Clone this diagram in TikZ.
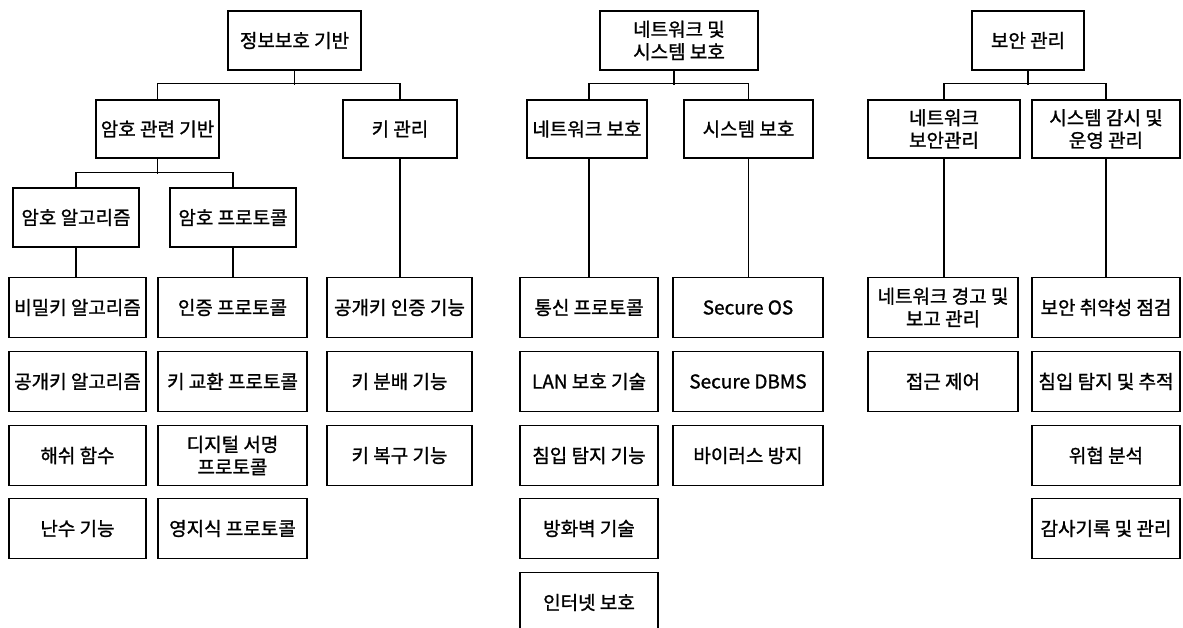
\documentclass[tikz,border=0pt]{standalone}
\usepackage{fontspec}
\setmainfont{Noto Sans CJK KR}[FakeBold=1.2]
\begin{document}
\begin{tikzpicture}[x=1pt,y=-1pt,
  box/.style={draw, line width=1.3pt, inner sep=0pt, align=center,
    font=\fontsize{19}{22.5}\selectfont},
  link/.style={line width=1.3pt}]
\clip (0,0) rectangle (1183,628);
\fill[white] (0,0) rectangle (1183,628);
% ---------- column 1 ----------
\node[box, minimum width=133, minimum height=59] (r1) at (294.5,40.5) {정보보호 기반};
\node[box, minimum width=123, minimum height=58] (a1) at (157.5,129) {암호 관련 기반};
\node[box, minimum width=114, minimum height=58] (k1) at (400,129) {키 관리};
\node[box, minimum width=126, minimum height=59] (b1) at (76,217.5) {암호 알고리즘};
\node[box, minimum width=126, minimum height=59] (b2) at (233,217.5) {암호 프로토콜};
\node[box, minimum width=137, minimum height=60] (l11) at (77.5,307.5) {비밀키 알고리즘};
\node[box, minimum width=137, minimum height=60] (l12) at (77.5,381.5) {공개키 알고리즘};
\node[box, minimum width=137, minimum height=60] (l13) at (77.5,455.5) {해쉬 함수};
\node[box, minimum width=137, minimum height=60] (l14) at (77.5,528.5) {난수 기능};
\node[box, minimum width=149, minimum height=60] (l21) at (232.5,307.5) {인증 프로토콜};
\node[box, minimum width=149, minimum height=60] (l22) at (232.5,381.5) {키 교환 프로토콜};
\node[box, minimum width=149, minimum height=60] (l23) at (232.5,455.5) {디지털 서명\\프로토콜};
\node[box, minimum width=149, minimum height=60] (l24) at (232.5,528.5) {영지식 프로토콜};
\node[box, minimum width=145, minimum height=60] (l31) at (399.5,307.5) {공개키 인증 기능};
\node[box, minimum width=145, minimum height=60] (l32) at (399.5,381.5) {키 분배 기능};
\node[box, minimum width=145, minimum height=60] (l33) at (399.5,455.5) {키 복구 기능};
\draw[link] (r1.south) -- ++(0,14);
\draw[link] (a1.north) -- ++(0,-16) -| (k1.north);
\draw[link] (a1.south) -- ++(0,15);
\draw[link] (b1.north) -- ++(0,-15) -| (b2.north);
\draw[link] (b1.south) -- (b1.south |- l11.north);
\draw[link] (b2.south) -- (b2.south |- l21.north);
\draw[link] (k1.south) -- (k1.south |- l31.north);
% ---------- column 2 ----------
\node[box, minimum width=158, minimum height=59] (r2) at (679,40.5) {네트워크 및\\시스템 보호};
\node[box, minimum width=120, minimum height=58] (n1) at (587,129) {네트워크 보호};
\node[box, minimum width=129, minimum height=58] (s1) at (748.5,129) {시스템 보호};
\node[box, minimum width=138, minimum height=60] (m11) at (589,307.5) {통신 프로토콜};
\node[box, minimum width=138, minimum height=60] (m12) at (589,381.5) {LAN 보호 기술};
\node[box, minimum width=138, minimum height=60] (m13) at (589,455.5) {침입 탐지 기능};
\node[box, minimum width=138, minimum height=60] (m14) at (589,528.5) {방화벽 기술};
\node[box, minimum width=138, minimum height=60] (m15) at (589,602.5) {인터넷 보호};
\node[box, minimum width=150, minimum height=60] (m21) at (748,307.5) {Secure OS};
\node[box, minimum width=150, minimum height=60] (m22) at (748,381.5) {Secure DBMS};
\node[box, minimum width=150, minimum height=60] (m23) at (748,455.5) {바이러스 방지};
\draw[link] ([xshift=-5]r2.south) -- ++(0,14);
\coordinate (n1top) at (m11.north |- n1.north);
\draw[link] (n1top) -- ++(0,-16) -| (s1.north);
\draw[link] (n1top |- n1.south) -- (m11.north);
\draw[link] (s1.south) -- (s1.south |- m21.north);
% ---------- column 3 ----------
\node[box, minimum width=112, minimum height=59] (r3) at (1028,40.5) {보안 관리};
\node[box, minimum width=152, minimum height=58] (p1) at (944,129) {네트워크\\보안관리};
\node[box, minimum width=148, minimum height=58] (p2) at (1106,129) {시스템 감시 및\\운영 관리};
\node[box, minimum width=150, minimum height=60] (q11) at (943,307.5) {네트워크 경고 및\\보고 관리};
\node[box, minimum width=150, minimum height=60] (q12) at (943,381.5) {접근 제어};
\node[box, minimum width=148, minimum height=60] (q21) at (1106,307.5) {보안 취약성 점검};
\node[box, minimum width=148, minimum height=60] (q22) at (1106,381.5) {침입 탐지 및 추적};
\node[box, minimum width=148, minimum height=60] (q23) at (1106,455.5) {위협 분석};
\node[box, minimum width=148, minimum height=60] (q24) at (1106,528.5) {감사기록 및 관리};
\draw[link] (r3.south) -- ++(0,14);
\draw[link] (p1.north) -- ++(0,-16) -| (p2.north);
\draw[link] (p1.south) -- (p1.south |- q11.north);
\draw[link] (p2.south) -- (p2.south |- q21.north);
\end{tikzpicture}
\end{document}
